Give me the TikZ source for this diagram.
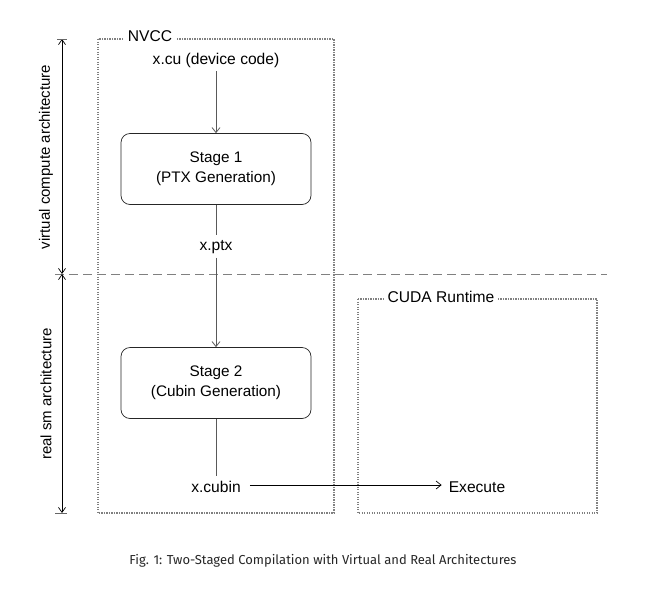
\documentclass[tikz,border=0pt]{standalone}
\usepackage{fontspec}
\setmainfont{Liberation Sans}
\newfontfamily\capfont{Fira Sans}
\usetikzlibrary{arrows.meta}
\begin{document}
\begin{tikzpicture}[x=1pt,y=-1pt,
  lbl/.style={font=\fontsize{15.6}{18}\selectfont, inner sep=1pt},
  stagebox/.style={draw=black!85, line width=0.7pt, rounded corners=9pt, minimum width=190pt, minimum height=71pt, align=center, font=\fontsize{15.3}{20}\selectfont},
  dotbox/.style={draw=black!50, line width=1.1pt, dash pattern=on 1.2pt off 1.3pt},
  boxtitle/.style={lbl, fill=white, inner xsep=4pt},
  flow/.style={draw=black!65, line width=0.8pt},
  tip/.style={-{Straight Barb[length=5pt,width=8pt]}},
  dim/.style={draw=black, line width=0.7pt, {Straight Barb[length=5pt,width=7pt]}-{Straight Barb[length=5pt,width=7pt]}},
  sidelbl/.style={font=\fontsize{15}{17}\selectfont, rotate=90, inner sep=0pt}
]
\useasboundingbox (0,0) rectangle (651,595);
% dotted boxes
\draw[dotbox] (98,39) rectangle (334,513);
\draw[dotbox] (358,299) rectangle (597,513);
\node[boxtitle] (nvcc) at (150,36) {NVCC};
\node[boxtitle] (cudart) at (441,297) {CUDA Runtime};
% dashed separator
\coordinate (sepL) at (55,274);
\coordinate (sepR) at (607,274);
\draw[draw=black!50, line width=0.8pt, dash pattern=on 9pt off 5pt] (sepL) -- (sepR);
% dimension arrows
\coordinate (d0) at (62,39);
\coordinate (d1) at (62,274);
\coordinate (d2) at (62,513);
\draw[dim] (d0) -- (d1);
\draw[dim] (d1) -- (d2);
\coordinate (t0a) at (57,39); \coordinate (t0b) at (67,39);
\coordinate (t2a) at (55,513); \coordinate (t2b) at (67,513);
\draw[black!60, line width=0.7pt] (t0a) -- (t0b);
\draw[black!60, line width=0.9pt] (t2a) -- (t2b);
\node[sidelbl] (virt) at (46,157) {virtual compute architecture};
\node[sidelbl] (real) at (46,394) {real sm architecture};
% flow
\node[lbl] (xcu) at (216,60) {x.cu (device code)};
\node[stagebox] (s1) at (216,169) {Stage 1\\(PTX Generation)};
\node[lbl] (xptx) at (216,247) {x.ptx};
\node[stagebox] (s2) at (216,383) {Stage 2\\(Cubin Generation)};
\node[lbl] (xcubin) at (216,487) {x.cubin};
\node[lbl] (exec) at (477,487) {Execute};
\draw[flow,tip] (xcu.south) ++(0,3) -- (s1.north);
\draw[flow] (s1.south) -- ([yshift=4pt]xptx.north);
\draw[flow,tip] ([yshift=-3pt]xptx.south) -- (s2.north);
\draw[flow] (s2.south) -- ([yshift=4pt]xcubin.north);
\draw[draw=black, line width=0.7pt, tip] ([xshift=8pt,yshift=2pt]xcubin.east) -- ([xshift=-6pt,yshift=2pt]exec.west);
% caption
\node[font=\capfont\fontsize{13}{15}\selectfont, text=black!85] (cap) at (323,561) {Fig. 1: Two-Staged Compilation with Virtual and Real Architectures};
\end{tikzpicture}
\end{document}
